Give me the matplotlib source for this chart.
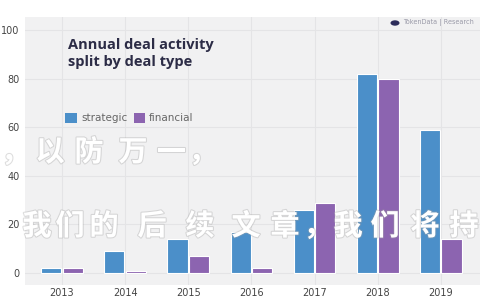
import matplotlib
matplotlib.use("Agg")
import matplotlib.pyplot as plt
import matplotlib.patheffects as pe
from matplotlib.patches import Patch, Circle
import numpy as np

years = ["2013", "2014", "2015", "2016", "2017", "2018", "2019"]
strategic = [2, 9, 14, 17, 26, 82, 59]
financial = [2, 1, 7, 2, 29, 80, 14]
yticks = [0, 20, 40, 60, 80, 100]
title = "Annual deal activity\nsplit by deal type"
legend_labels = ["strategic", "financial"]
watermark1 = "，以防万一，"
watermark2 = "我们的后续文章，我们将持"
brand = "TokenData | Research"

c_str = "#4b8fc9"
c_fin = "#8c64b0"

fig = plt.figure(figsize=(5, 3), dpi=100, facecolor="white")
ax = fig.add_axes([0.05, 0.05, 0.91, 0.893])
ax.set_facecolor("#f1f1f2")

x = np.arange(len(years))
w = 0.32
ax.bar(x - 0.17, strategic, w, color=c_str, edgecolor="white", linewidth=0.8, zorder=3)
ax.bar(x + 0.17, financial, w, color=c_fin, edgecolor="white", linewidth=0.8, zorder=3)

ax.set_xlim(-0.585, 6.62)
ax.set_ylim(-4.9, 105.3)
ax.set_yticks(yticks)
ax.set_xticks(x)
ax.set_xticklabels(years)
ax.tick_params(length=0, labelsize=7, labelcolor="#444444")
ax.tick_params(axis="y", pad=4)
ax.tick_params(axis="x", pad=2)
ax.grid(True, color="#e4e4e6", linewidth=0.8, zorder=0)
for s in ax.spines.values():
    s.set_visible(False)

fig.text(68 / 500, 1 - 38 / 300, title, fontsize=10.5, fontweight="bold",
         color="#2c2c46", va="top", ha="left", linespacing=1.25, family="Open Sans")

handles = [Patch(facecolor=c_str), Patch(facecolor=c_fin)]
fig.legend(handles, legend_labels, loc="center left", bbox_to_anchor=(56 / 500, 1 - 118 / 300),
           ncol=2, frameon=False, fontsize=7.5, labelcolor="#666666",
           handlelength=1.1, handleheight=1.1, handletextpad=0.4, columnspacing=0.6)

# brand
fig.patches.append(Circle((395 / 500, 1 - 23 / 300), 0.009, transform=fig.transFigure,
                          facecolor="#2c2c5a", edgecolor="none"))
fig.text(403 / 500, 1 - 23 / 300, brand, fontsize=4.7, color="#9a9aa8", va="center", ha="left")

# watermarks
eff = [pe.withStroke(linewidth=1.5, foreground="#a0a0a0", alpha=0.35)]
cjk = ["Noto Sans CJK SC", "DejaVu Sans"]
xs1 = [1, 50, 89, 133, 171, 203]
for i, (ch, xx) in enumerate(zip(watermark1, xs1)):
    fig.text(xx / 500, 1 - 152 / 300, ch, fontsize=21, fontweight="bold", color="white",
             ha="left" if i == 0 else "center", va="center", family=cjk, path_effects=eff, zorder=10)
xs2 = [37, 70, 104, 152, 200, 246, 285, 318, 348, 385, 425, 464]
for ch, xx in zip(watermark2, xs2):
    fig.text(xx / 500, 1 - 226 / 300, ch, fontsize=21, fontweight="bold", color="white",
             ha="center", va="center", family=cjk, path_effects=eff, zorder=10)

fig.savefig("out.png", dpi=100, facecolor="white")
